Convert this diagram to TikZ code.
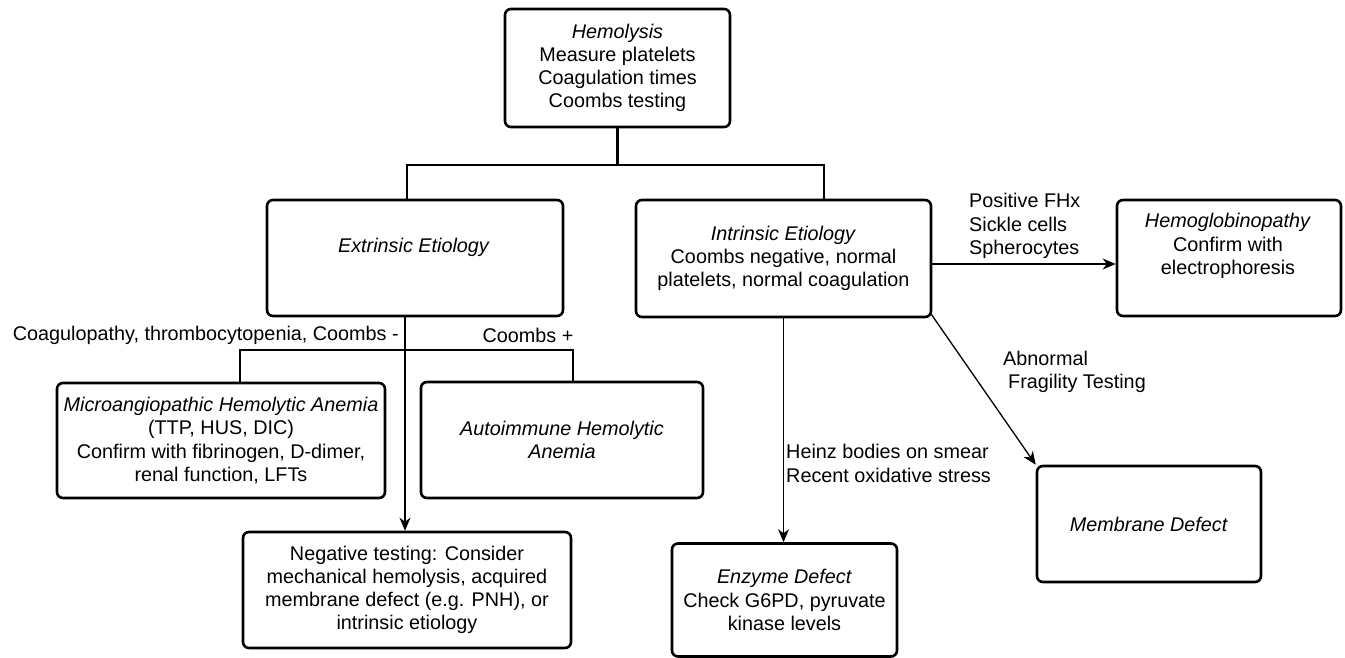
\documentclass[tikz,border=0pt]{standalone}
\usepackage{fontspec}
\setmainfont{Liberation Sans}
\usetikzlibrary{arrows.meta}
\tikzset{
  base/.style={font=\fontsize{19.8}{23.2}\selectfont, text=black},
  box/.style={base, draw=black, line width=2.6pt, rounded corners=6pt, inner sep=0pt, align=center},
  lbl/.style={base, inner sep=0pt},
  tree/.style={draw=black, line width=2.6pt},
  arr/.style={draw=black, line width=1.3pt, -{Stealth[length=13pt,width=11pt,inset=4pt]}}
}
\begin{document}
\begin{tikzpicture}[x=1pt,y=-1pt]
\useasboundingbox (0,0) rectangle (1345,658);
% boxes
\node[box, minimum width=225pt, minimum height=118pt] (top) at (617.5,68)
  {\textit{Hemolysis}\\Measure platelets\\Coagulation times\\Coombs testing};
\node[box, minimum width=296pt, minimum height=116pt] (ext) at (415,258) {};
\node[lbl] (exttxt) at (414,247) {\textit{Extrinsic Etiology}};
\node[box, minimum width=295pt, minimum height=117pt] (int) at (783.5,258.5)
  {\textit{Intrinsic Etiology}\\Coombs negative, normal\\platelets, normal coagulation};
\node[box, minimum width=224pt, minimum height=116pt] (hb) at (1229,258) {};
\node[lbl, align=center] (hbtxt) at (1228,246) {\textit{Hemoglobinopathy}\\Confirm with\\electrophoresis};
\node[box, minimum width=328pt, minimum height=115pt] (maha) at (221,440.5)
  {\textit{Microangiopathic Hemolytic Anemia}\\(TTP, HUS, DIC)\\Confirm with fibrinogen, D-dimer,\\renal function, LFTs};
\node[box, minimum width=282pt, minimum height=116pt] (aiha) at (562,440)
  {\textit{Autoimmune Hemolytic}\\\textit{Anemia}};
\node[box, minimum width=328pt, minimum height=116pt] (neg) at (407,590)
  {Negative testing: Consider\\mechanical hemolysis, acquired\\membrane defect (e.g. PNH), or\\intrinsic etiology};
\node[box, minimum width=225pt, minimum height=113pt] (enz) at (784.5,600)
  {\textit{Enzyme Defect}\\Check G6PD, pyruvate\\kinase levels};
\node[box, minimum width=224pt, minimum height=116pt] (mem) at (1149,524)
  {\textit{Membrane Defect}};
% tree from top
\coordinate (jL) at (407,165);
\coordinate (jR) at (824,165);
\draw[tree] (top.south) -- (top.south |- jL);
\draw[tree] (jL |- ext.north) -- (jL) -- (jR) -- (jR |- int.north);
% extrinsic branches
\coordinate (j2) at (405,350);
\coordinate (j2L) at (240,350);
\coordinate (j2R) at (573,350);
\draw[tree] (j2 |- ext.south) -- (j2);
\draw[tree] (j2L |- maha.north) -- (j2L) -- (j2R) -- (j2R |- aiha.north);
\draw[arr] (j2) -- (j2 |- neg.north);
\node[lbl, anchor=east] (lcoag) at (399,335) {Coagulopathy, thrombocytopenia, Coombs -};
\node[lbl] (lcoombs) at (528,335) {Coombs +};
% intrinsic branches
\draw[arr] (int.south) -- (int.south |- enz.north);
\node[lbl, anchor=west, align=left] (lheinz) at (786,463.5) {Heinz bodies on smear\\Recent oxidative stress};
\draw[arr] ([yshift=-5.5pt]int.east) -- ([yshift=-5.5pt]int.east -| hb.west);
\node[lbl, anchor=west, align=left] (lpos) at (969,226) {Positive FHx\\Sickle cells\\Spherocytes};
\draw[arr] ([xshift=-1pt,yshift=4pt]int.south east) -- (mem.north west);
\node[lbl, anchor=west, align=left] (labn) at (1003,372) {Abnormal\\\hspace{5pt}Fragility Testing};
\end{tikzpicture}
\end{document}
